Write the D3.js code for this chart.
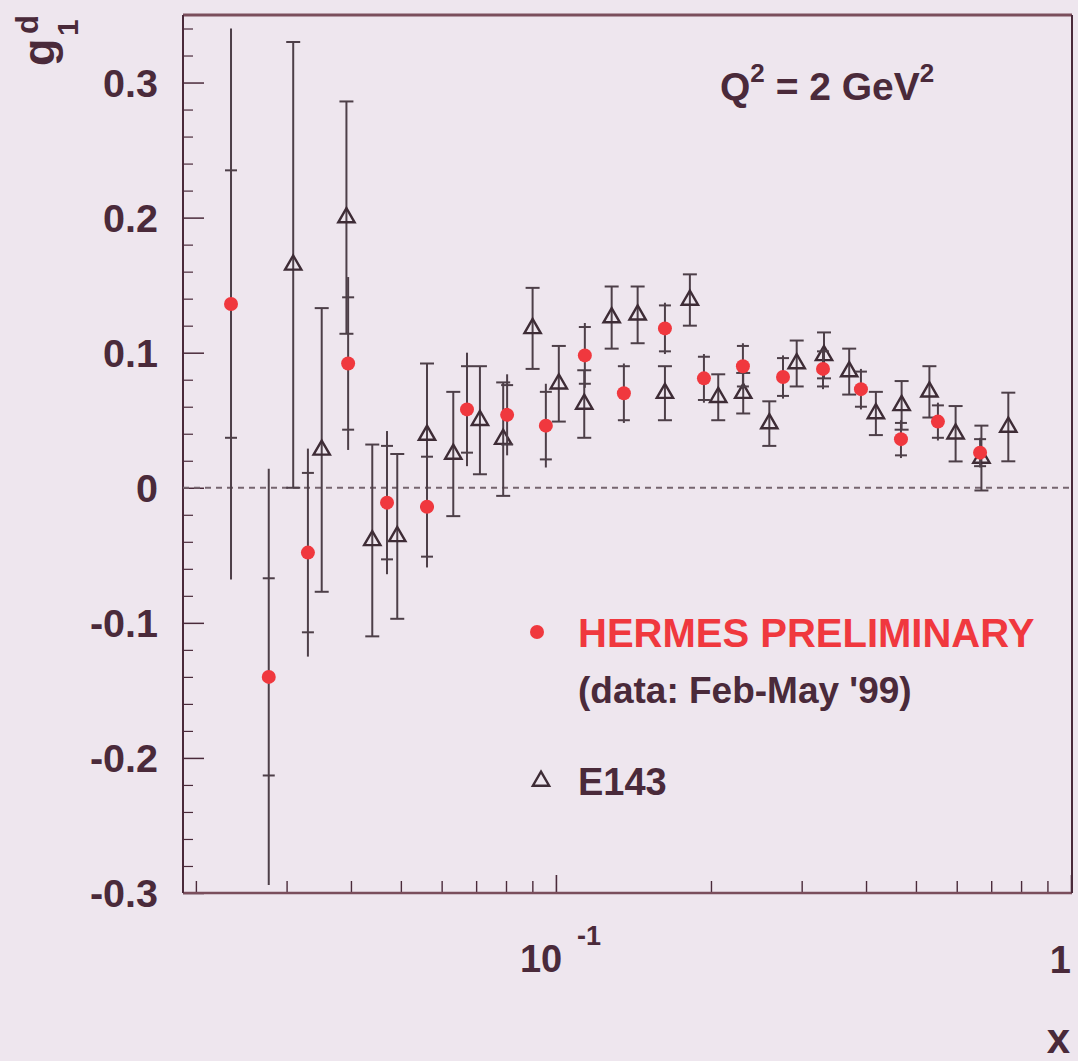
<!DOCTYPE html>
<html>
<head>
<meta charset="utf-8">
<script src="https://cdn.jsdelivr.net/npm/d3@7"></script>
<style>
  html, body { margin: 0; padding: 0; background: #eee6ee; }
  svg { display: block; }
  text { font-family: "Liberation Sans", Arial, Helvetica, sans-serif; font-weight: bold; }
</style>
</head>
<body>
<svg id="chart" width="1078" height="1061"></svg>
<script>
// g1 of the deuteron at Q^2 = 2 GeV^2
// HERMES preliminary: x, value, statistical error, total error
const hermesX    = [0.0234, 0.0277, 0.0330, 0.0395, 0.0470, 0.0562, 0.0672, 0.0804, 0.0956, 0.1138,
                    0.1355, 0.1628, 0.1938, 0.2307, 0.2760, 0.3300, 0.3910, 0.4676, 0.5516, 0.6660];
const hermesY    = [0.136, -0.140, -0.048, 0.092, -0.011, -0.014, 0.058, 0.054, 0.046, 0.098,
                    0.070, 0.118, 0.081, 0.090, 0.082, 0.088, 0.073, 0.036, 0.049, 0.026];
const hermesStat = [0.099, 0.073, 0.059, 0.049, 0.042, 0.037, 0.032, 0.022, 0.025, 0.021,
                    0.020, 0.017, 0.016, 0.015, 0.014, 0.013, 0.013, 0.012, 0.012, 0.010];
const hermesTot  = [0.204, 0.154, 0.077, 0.064, 0.053, 0.045, 0.042, 0.030, 0.031, 0.024,
                    0.022, 0.019, 0.018, 0.017, 0.016, 0.015, 0.015, 0.014, 0.014, 0.011];

// E143: x, value, error
const e143X   = [0.0309, 0.0351, 0.0392, 0.0440, 0.0492, 0.0562, 0.0632, 0.0712, 0.0790, 0.0901,
                 0.1013, 0.1135, 0.1283, 0.1441, 0.1628, 0.1820, 0.2066, 0.2310, 0.2596, 0.2934,
                 0.3315, 0.3710, 0.4180, 0.4690, 0.5310, 0.5970, 0.6700, 0.7556];
const e143Y   = [0.165, 0.028, 0.200, -0.039, -0.036, 0.039, 0.025, 0.050, 0.036, 0.118,
                 0.077, 0.062, 0.126, 0.128, 0.070, 0.139, 0.067, 0.070, 0.0475, 0.092,
                 0.098, 0.086, 0.055, 0.061, 0.071, 0.040, 0.022, 0.045];
const e143Err = [0.165, 0.105, 0.086, 0.071, 0.061, 0.053, 0.046, 0.040, 0.042, 0.030,
                 0.028, 0.025, 0.023, 0.021, 0.020, 0.019, 0.017, 0.015, 0.0165, 0.017,
                 0.017, 0.017, 0.016, 0.018, 0.019, 0.0205, 0.024, 0.0254];

// axis ticks
const yMajorTicks  = [-0.3, -0.2, -0.1, 0, 0.1, 0.2, 0.3];
const yTickLabels  = ["-0.3", "-0.2", "-0.1", "0", "0.1", "0.2", "0.3"];
const xMinorTicks  = [0.02, 0.03, 0.04, 0.05, 0.06, 0.07, 0.08, 0.09, 0.2, 0.3, 0.4, 0.5, 0.6, 0.7, 0.8, 0.9];
const xMajorTicks  = [0.1, 1];

const ink = "#4a2a3a";
const barInk = "#4d3f48";
const red = "#f0383e";

const svg = d3.select("#chart");
const plotLeft = 183, plotRight = 1071, plotTop = 15, plotBottom = 893;

const x = d3.scaleLog().domain([0.01888, 1]).range([plotLeft, plotRight]);
const y = d3.scaleLinear().domain([-0.3, 0.35]).range([plotBottom, plotTop]);

// y-axis minor ticks every 0.02, major every 0.1 (pointing inward)
const yMinor = d3.range(-0.28, 0.35, 0.02).map(v => +v.toFixed(2))
  .filter(v => !yMajorTicks.some(m => Math.abs(m - v) < 1e-6));
svg.append("g").attr("transform", `translate(${plotLeft},0)`)
  .call(d3.axisRight(y).tickValues(yMinor).tickSize(10).tickFormat(""))
  .call(g => g.select(".domain").remove())
  .selectAll("line").attr("stroke", ink).attr("stroke-width", 1.2);
svg.append("g").attr("transform", `translate(${plotLeft},0)`)
  .call(d3.axisRight(y).tickValues(yMajorTicks).tickSize(21).tickFormat(""))
  .call(g => g.select(".domain").remove())
  .selectAll("line").attr("stroke", ink).attr("stroke-width", 1.5);

// y tick labels
svg.append("g").selectAll("text").data(yMajorTicks).join("text")
  .attr("x", 158).attr("y", d => y(d) + 14)
  .attr("text-anchor", "end").attr("font-size", 39.5).attr("fill", ink)
  .text((d, i) => yTickLabels[i]);

// x-axis ticks (pointing inward)
svg.append("g").attr("transform", `translate(0,${plotBottom})`)
  .call(d3.axisTop(x).tickValues(xMinorTicks).tickSize(12).tickFormat(""))
  .call(g => g.select(".domain").remove())
  .selectAll("line").attr("stroke", ink).attr("stroke-width", 1.4);
svg.append("g").attr("transform", `translate(0,${plotBottom})`)
  .call(d3.axisTop(x).tickValues(xMajorTicks).tickSize(18).tickFormat(""))
  .call(g => g.select(".domain").remove())
  .selectAll("line").attr("stroke", ink).attr("stroke-width", 1.6);

// frame
svg.append("line").attr("x1", plotLeft).attr("x2", plotRight + 1).attr("y1", plotTop).attr("y2", plotTop)
  .attr("stroke", "#7a4e5c").attr("stroke-width", 3);
svg.append("line").attr("x1", plotLeft).attr("x2", plotRight + 1).attr("y1", plotBottom).attr("y2", plotBottom)
  .attr("stroke", "#7a4e5c").attr("stroke-width", 2.5);
svg.append("line").attr("x1", plotLeft).attr("x2", plotLeft).attr("y1", plotTop).attr("y2", plotBottom)
  .attr("stroke", ink).attr("stroke-width", 2);
svg.append("line").attr("x1", plotRight + 1).attr("x2", plotRight + 1).attr("y1", plotTop).attr("y2", plotBottom)
  .attr("stroke", ink).attr("stroke-width", 2);

// zero line
svg.append("line").attr("x1", plotLeft).attr("x2", plotRight).attr("y1", y(0)).attr("y2", y(0))
  .attr("stroke", "#76656f").attr("stroke-width", 2).attr("stroke-dasharray", "6,5");

// x-axis labels
const xl = svg.append("g").attr("fill", ink);
xl.append("text").attr("x", x(0.1) - 36).attr("y", 972).attr("font-size", 38).text("10");
xl.append("text").attr("x", x(0.1) + 21).attr("y", 945).attr("font-size", 27).text("-1");
xl.append("text").attr("x", x(1)).attr("y", 973).attr("text-anchor", "end").attr("font-size", 38).text("1");
xl.append("text").attr("x", 1070).attr("y", 1053).attr("text-anchor", "end").attr("font-size", 42).text("x");

// y-axis title g_1^d, rotated
const yt = svg.append("g").attr("fill", ink);
yt.append("text").attr("transform", "translate(54,66) rotate(-90)").attr("font-size", 45).text("g");
yt.append("text").attr("transform", "translate(38,34) rotate(-90)").attr("font-size", 31).text("d");
yt.append("text").attr("transform", "translate(78,36) rotate(-90)").attr("font-size", 30).text("1");

// Q^2 label
const q = svg.append("text").attr("x", 720).attr("y", 100).attr("font-size", 39).attr("fill", ink);
q.append("tspan").text("Q");
q.append("tspan").attr("dy", -18).attr("font-size", 26).text("2");
q.append("tspan").attr("dy", 18).text(" = 2 GeV");
q.append("tspan").attr("dy", -18).attr("font-size", 26).text("2");

// E143 error bars with caps and open triangles
const e143 = e143X.map((v, i) => ({x: v, y: e143Y[i], e: e143Err[i]}));
const eg = svg.append("g").attr("stroke", barInk).attr("stroke-width", 2).attr("fill", "none");
eg.selectAll("line.v").data(e143).join("line").attr("class", "v")
  .attr("x1", d => x(d.x)).attr("x2", d => x(d.x))
  .attr("y1", d => y(d.y + d.e)).attr("y2", d => y(d.y - d.e));
eg.selectAll("line.cu").data(e143).join("line").attr("class", "cu")
  .attr("x1", d => x(d.x) - 7).attr("x2", d => x(d.x) + 7)
  .attr("y1", d => y(d.y + d.e)).attr("y2", d => y(d.y + d.e));
eg.selectAll("line.cl").data(e143).join("line").attr("class", "cl")
  .attr("x1", d => x(d.x) - 7).attr("x2", d => x(d.x) + 7)
  .attr("y1", d => y(d.y - d.e)).attr("y2", d => y(d.y - d.e));
const tri = d3.symbol().type(d3.symbolTriangle).size(115);
eg.selectAll("path").data(e143).join("path")
  .attr("d", tri).attr("transform", d => `translate(${x(d.x)},${y(d.y)})`)
  .attr("fill", "none").attr("stroke", "#3e2c36").attr("stroke-width", 2.4);

// HERMES: total-error line with statistical ticks, filled red dots
const hermes = hermesX.map((v, i) => ({x: v, y: hermesY[i], s: hermesStat[i], t: hermesTot[i]}));
const hg = svg.append("g").attr("stroke", barInk).attr("stroke-width", 2);
hg.selectAll("line.v").data(hermes).join("line").attr("class", "v")
  .attr("x1", d => x(d.x)).attr("x2", d => x(d.x))
  .attr("y1", d => y(d.y + d.t)).attr("y2", d => y(d.y - d.t));
hg.selectAll("line.su").data(hermes).join("line").attr("class", "su")
  .attr("x1", d => x(d.x) - 6).attr("x2", d => x(d.x) + 6)
  .attr("y1", d => y(d.y + d.s)).attr("y2", d => y(d.y + d.s));
hg.selectAll("line.sl").data(hermes).join("line").attr("class", "sl")
  .attr("x1", d => x(d.x) - 6).attr("x2", d => x(d.x) + 6)
  .attr("y1", d => y(d.y - d.s)).attr("y2", d => y(d.y - d.s));
svg.append("g").selectAll("circle").data(hermes).join("circle")
  .attr("cx", d => x(d.x)).attr("cy", d => y(d.y)).attr("r", 7).attr("fill", red);

// legend
svg.append("circle").attr("cx", 537).attr("cy", 632).attr("r", 7).attr("fill", red);
svg.append("text").attr("x", 578).attr("y", 647).attr("font-size", 40).attr("fill", red).text("HERMES PRELIMINARY");
svg.append("text").attr("x", 578).attr("y", 703).attr("font-size", 37).attr("fill", ink).text("(data: Feb-May '99)");
svg.append("path").attr("d", tri).attr("transform", "translate(541,781)")
  .attr("fill", "none").attr("stroke", "#3e2c36").attr("stroke-width", 2.4);
svg.append("text").attr("x", 578).attr("y", 795).attr("font-size", 38).attr("fill", ink).text("E143");
</script>
</body>
</html>
